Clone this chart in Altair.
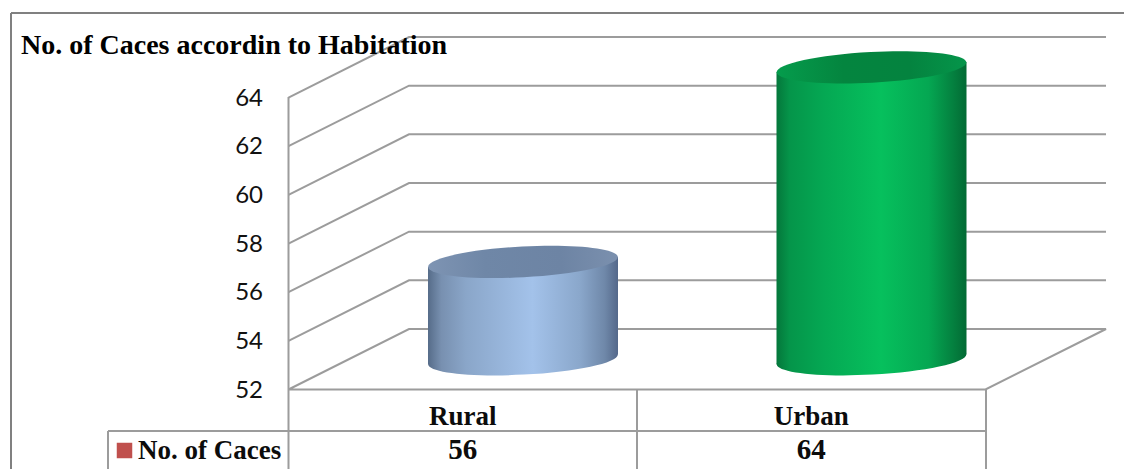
import altair as alt
import pandas as pd

# Chart content
title_text = "No. of Caces accordin to Habitation"
series_name = "No. of Caces"
categories = ["Rural", "Urban"]
cases = [56, 64]
axis_ticks = [52, 54, 56, 58, 60, 62, 64]

# Canvas and projection of the pseudo-3D box
W, H = 1124, 469
X0, PX_PER_CAT = 288.5, 348.5      # left edge of the front floor, width of one category
Y52, PX_PER_UNIT = 389.5, 24.33    # pixel of the axis minimum, pixels per axis unit
DEPTH_CAT = 120.5 / PX_PER_CAT     # horizontal shift of the back wall, in categories
DEPTH_VAL = 60.5 / PX_PER_UNIT     # vertical shift of the back wall, in axis units
CYL_HALF = 95.0 / PX_PER_CAT       # cylinder radius, in categories
CYL_TILT = 5.0 / PX_PER_UNIT       # slant of cylinder ends, in axis units

x_scale = alt.Scale(domain=[-X0 / PX_PER_CAT, (W - X0) / PX_PER_CAT], range=[0, W], nice=False, zero=False)
y_scale = alt.Scale(domain=[52 - (H - Y52) / PX_PER_UNIT, 52 + Y52 / PX_PER_UNIT], range=[H, 0], nice=False, zero=False)
X = lambda f: alt.X(f, type="quantitative", scale=x_scale, axis=None)
Y = lambda f: alt.Y(f, type="quantitative", scale=y_scale, axis=None)

LINE = "#9c9c9c"
FRAME = "#808080"
SERIF = "Liberation Serif"
SANS = "Lato"


def segment(x1, y1, x2, y2, color=LINE, width=2):
    """A straight structural line in canvas pixels."""
    return alt.Chart(pd.DataFrame({"a": [0]})).mark_rule(color=color, strokeWidth=width).encode(
        x=alt.value(x1), x2=alt.value(x2), y=alt.value(y1), y2=alt.value(y2)
    )


def gradient(stops):
    return alt.LinearGradient(
        gradient="linear", x1=0, x2=1, y1=0, y2=0,
        stops=[alt.GradientStop(offset=o, color=c) for o, c in stops],
    )


def cylinder(slot, value, side_stops, top_stops):
    cx = slot + 0.5 + DEPTH_CAT / 2
    base = 52 + DEPTH_VAL / 2
    top = value + DEPTH_VAL / 2
    ends = pd.DataFrame({"x": [cx - CYL_HALF, cx + CYL_HALF],
                         "y": [top - CYL_TILT, top + CYL_TILT],
                         "y2": [base - CYL_TILT, base + CYL_TILT]})
    ellipse = "M-1,0 A1,0.162 0 1 1 1,0 A1,0.162 0 1 1 -1,0 Z"
    size = (2 * CYL_HALF * PX_PER_CAT) ** 2
    low_pt = pd.DataFrame({"x": [cx], "y": [base]})
    top_pt = pd.DataFrame({"x": [cx], "y": [top]})
    bottom = alt.Chart(low_pt).mark_point(
        shape=ellipse, size=size, angle=357, filled=True, fill=gradient(side_stops), opacity=1, strokeWidth=0
    ).encode(x=X("x"), y=Y("y"))
    side = alt.Chart(ends).mark_area(
        orient="vertical", interpolate="linear", fill=gradient(side_stops), opacity=1
    ).encode(x=X("x"), y=Y("y"), y2=alt.Y2("y2"))
    cap = alt.Chart(top_pt).mark_point(
        shape=ellipse, size=size, angle=357, filled=True, fill=gradient(top_stops), opacity=1, strokeWidth=0
    ).encode(x=X("x"), y=Y("y"))
    return [bottom, side, cap]


# Wall gridlines: each tick runs up the side wall and along the back wall
grid_rows = []
for t in axis_ticks[1:]:
    grid_rows += [
        {"tick": t, "order": 0, "x": 0, "y": t},
        {"tick": t, "order": 1, "x": DEPTH_CAT, "y": t + DEPTH_VAL},
        {"tick": t, "order": 2, "x": 2 + DEPTH_CAT, "y": t + DEPTH_VAL},
    ]
grid = alt.Chart(pd.DataFrame(grid_rows)).mark_line(color=LINE, strokeWidth=2, interpolate="linear").encode(
    x=X("x"), y=Y("y"), detail="tick:N", order="order:Q"
)

# Floor outline
floor_rows = [
    {"order": 0, "x": 0, "y": 52},
    {"order": 1, "x": DEPTH_CAT, "y": 52 + DEPTH_VAL},
    {"order": 2, "x": 2 + DEPTH_CAT, "y": 52 + DEPTH_VAL},
    {"order": 3, "x": 2, "y": 52},
    {"order": 4, "x": 0, "y": 52},
]
floor = alt.Chart(pd.DataFrame(floor_rows)).mark_line(color=LINE, strokeWidth=2, interpolate="linear").encode(
    x=X("x"), y=Y("y"), order="order:Q"
)

tick_labels = alt.Chart(pd.DataFrame({"t": axis_ticks})).mark_text(
    font=SANS, fontSize=24, align="right", baseline="middle", color="#111111", dy=1
).encode(x=alt.value(263), y=Y("t"), text="t:Q")

table = pd.DataFrame({"slot": [i + 0.5 for i in range(len(categories))], "cat": categories, "val": cases})
cat_labels = alt.Chart(table).mark_text(
    font=SERIF, fontWeight="bold", fontSize=27, align="center", baseline="alphabetic", color="#0c0c0c"
).encode(x=X("slot"), y=alt.value(425), text="cat:N")
val_labels = alt.Chart(table).mark_text(
    font=SERIF, fontWeight="bold", fontSize=29, align="center", baseline="alphabetic", color="#0c0c0c"
).encode(x=X("slot"), y=alt.value(459), text="val:Q")

one = pd.DataFrame({"label": [series_name], "heading": [title_text]})
series_label = alt.Chart(one).mark_text(
    font=SERIF, fontWeight="bold", fontSize=27, align="left", baseline="alphabetic", color="#0c0c0c"
).encode(x=alt.value(138), y=alt.value(459), text="label:N")
swatch = alt.Chart(one).mark_square(size=240, color="#c0504d", opacity=1).encode(x=alt.value(124.5), y=alt.value(450.5))
heading = alt.Chart(one).mark_text(
    font=SERIF, fontWeight="bold", fontSize=28, align="left", baseline="alphabetic", color="#000000"
).encode(x=alt.value(21), y=alt.value(54), text="heading:N")

blue_side = [(0, "#566c89"), (0.07, "#7890b0"), (0.2, "#8aa6c9"), (0.55, "#a3c2ea"),
             (0.8, "#8aa7cb"), (0.93, "#6f88a9"), (1, "#54688a")]
blue_top = [(0, "#7e94b3"), (0.3, "#6f87a7"), (0.7, "#6d84a4"), (1, "#7b90ae")]
green_side = [(0, "#04773b"), (0.07, "#05954a"), (0.25, "#05a853"), (0.55, "#06c05d"),
              (0.8, "#05a752"), (0.93, "#04803f"), (1, "#036a34")]
green_top = [(0, "#059c4c"), (0.35, "#04853f"), (0.7, "#04833f"), (1, "#05954a")]

layers = [
    segment(11, 13, W, 13, FRAME),
    segment(11, 13, 11, H, FRAME),
    grid,
    floor,
    segment(288.5, 97, 288.5, H),
    segment(637, 389, 637, H),
    segment(986, 389, 986, H),
    segment(108, 431, 986, 431),
    segment(108, 431, 108, H),
    *cylinder(0, cases[0], blue_side, blue_top),
    *cylinder(1, cases[1], green_side, green_top),
    tick_labels,
    cat_labels,
    val_labels,
    swatch,
    series_label,
    heading,
]

chart = alt.layer(*layers).properties(
    width=W, height=H, padding=0, autosize=alt.AutoSizeParams(type="none"), background="white"
).configure_view(stroke=None)

chart.save("out.html", embed_options={"renderer": "svg", "actions": False})
